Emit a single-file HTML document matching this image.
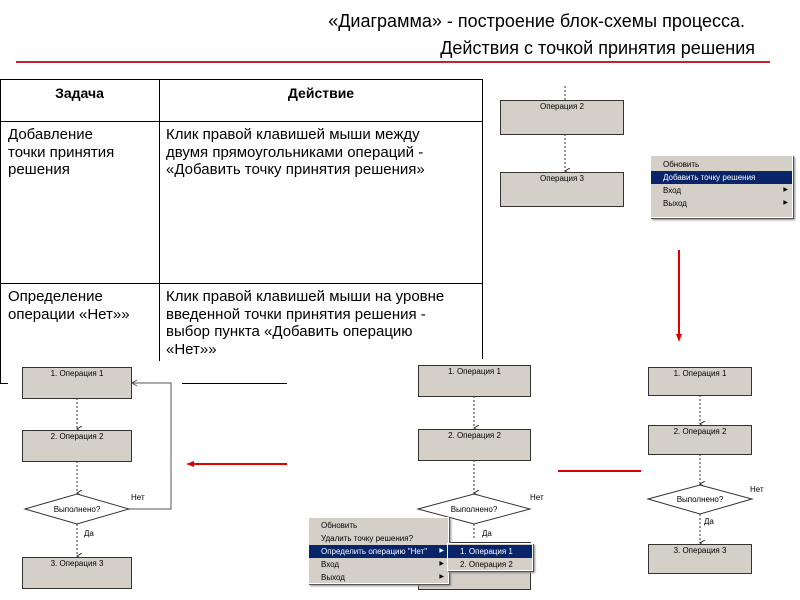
<!DOCTYPE html>
<html><head><meta charset="utf-8"><style>
body{margin:0;width:800px;height:600px;background:#fff;position:relative;overflow:hidden;font-family:"Liberation Sans",sans-serif}
.a{position:absolute}
.t{font-size:15px;color:#000;line-height:17.5px}
.box{position:absolute;background:#d4d0c8;border:1px solid #333;box-sizing:border-box;font-size:8px;text-align:center;padding-top:1px}
.menu{position:absolute;background:#d4d0c8;border:1px solid #fff;box-shadow:1px 1px 0 #555,2px 2px 2px #888;font-size:8px;box-sizing:border-box}
.menu div{height:13px;line-height:13px;padding-left:12px;position:relative}
.hl{background:#0a246a;color:#fff}
.ar:after{content:"▶";position:absolute;right:4px;font-size:6px}
</style></head><body>
<div class="a" style="left:200px;top:8px;width:555px;text-align:right;font-size:18px;line-height:27px">
<div style="padding-right:10px">«Диаграмма» - построение блок-схемы процесса.</div>
<div>Действия с точкой принятия решения</div></div>
<div class="a" style="left:16px;top:61px;width:754px;height:2px;background:#c0272d"></div>

<div class="a" style="left:0;top:79px;width:482px;height:1px;background:#000"></div>
<div class="a" style="left:0;top:79px;width:1px;height:305px;background:#000"></div>
<div class="a" style="left:482px;top:79px;width:1px;height:280px;background:#000"></div>
<div class="a" style="left:159px;top:79px;width:1px;height:282px;background:#000"></div>
<div class="a" style="left:0;top:121px;width:482px;height:1px;background:#000"></div>
<div class="a" style="left:0;top:283px;width:482px;height:1px;background:#000"></div>
<div class="a" style="left:0;top:383px;width:8px;height:1px;background:#000"></div>
<div class="a" style="left:182px;top:383px;width:105px;height:1px;background:#000"></div>
<div class="a t" style="left:0;top:85px;width:159px;text-align:center;font-weight:bold;font-size:14px">Задача</div>
<div class="a t" style="left:160px;top:85px;width:322px;text-align:center;font-weight:bold;font-size:14px">Действие</div>
<div class="a t" style="left:8px;top:126px">Добавление<br>точки принятия<br>решения</div>
<div class="a t" style="left:166px;top:126px">Клик правой клавишей мыши между<br>двумя прямоугольниками операций -<br>«Добавить точку принятия решения»</div>
<div class="a t" style="left:8px;top:288px">Определение<br>операции «Нет»»</div>
<div class="a t" style="left:166px;top:288px">Клик правой клавишей мыши на уровне<br>введенной точки принятия решения -<br>выбор пункта «Добавить операцию<br>«Нет»»</div>

<svg class="a" style="left:0;top:0" width="800" height="600">
<defs><marker id="v" markerWidth="6" markerHeight="6" refX="3" refY="5" orient="auto"><path d="M0,0 L3,5 L6,0" fill="none" stroke="#333" stroke-width="1"/></marker>
<marker id="r" markerUnits="userSpaceOnUse" markerWidth="8" markerHeight="6" refX="4" refY="3" orient="auto"><path d="M0,0 L8,3 L0,6z" fill="#d00"/></marker></defs>
<g stroke="#333" stroke-dasharray="2,2" fill="none">
<line x1="565" y1="86" x2="565" y2="100"/><line x1="565" y1="134" x2="565" y2="171" marker-end="url(#v)"/>
<line x1="77" y1="398" x2="77" y2="429" marker-end="url(#v)"/><line x1="77" y1="461" x2="77" y2="493" marker-end="url(#v)"/><line x1="77" y1="524" x2="77" y2="556" marker-end="url(#v)"/>
<line x1="474" y1="396" x2="474" y2="428" marker-end="url(#v)"/><line x1="474" y1="460" x2="474" y2="493" marker-end="url(#v)"/><line x1="474" y1="524" x2="474" y2="540"/>
<line x1="700" y1="395" x2="700" y2="424" marker-end="url(#v)"/><line x1="700" y1="454" x2="700" y2="484" marker-end="url(#v)"/><line x1="700" y1="514" x2="700" y2="543" marker-end="url(#v)"/>
</g>
<polyline points="129,509 171,509 171,383 133,383" fill="none" stroke="#555"/>
<path d="M137,380 L132,383 L137,386" fill="none" stroke="#555"/>
<g fill="#fff" stroke="#333">
<polygon points="25,509 77,494 129,509 77,524"/>
<polygon points="418,509 474,494 530,509 474,524"/>
<polygon points="648,499 700,485 752,499 700,514"/>
</g>
<g font-size="8" font-family="Liberation Sans,sans-serif" text-anchor="middle">
<text x="77" y="512">Выполнено?</text><text x="474" y="512">Выполнено?</text><text x="700" y="502">Выполнено?</text>
</g>
<g font-size="8" font-family="Liberation Sans,sans-serif">
<text x="131" y="500">Нет</text><text x="84" y="536">Да</text>
<text x="530" y="500">Нет</text><text x="482" y="536">Да</text>
<text x="750" y="492">Нет</text><text x="704" y="524">Да</text>
</g>
<line x1="287" y1="464" x2="190" y2="464" stroke="#d00" stroke-width="2" marker-end="url(#r)"/>
<line x1="558" y1="471" x2="641" y2="471" stroke="#d00" stroke-width="2"/>
<line x1="679" y1="250" x2="679" y2="338" stroke="#d00" stroke-width="2" marker-end="url(#r)"/>
</svg>

<div class="box" style="left:500px;top:100px;width:124px;height:35px">Операция 2</div>
<div class="box" style="left:500px;top:172px;width:124px;height:35px">Операция 3</div>
<div class="menu" style="left:650px;top:155px;width:143px;height:63px;padding-top:2px">
<div>Обновить</div><div class="hl">Добавить точку решения</div><div class="ar">Вход</div><div class="ar">Выход</div></div>

<div class="box" style="left:22px;top:367px;width:110px;height:32px">1. Операция 1</div>
<div class="box" style="left:22px;top:430px;width:110px;height:32px">2. Операция 2</div>
<div class="box" style="left:22px;top:557px;width:110px;height:32px">3. Операция 3</div>

<div class="box" style="left:418px;top:365px;width:113px;height:32px">1. Операция 1</div>
<div class="box" style="left:418px;top:429px;width:113px;height:32px">2. Операция 2</div>
<div class="box" style="left:418px;top:542px;width:113px;height:48px"></div>
<div class="menu" style="left:308px;top:517px;width:141px;height:67px;padding-top:1px">
<div>Обновить</div><div>Удалить точку решения?</div><div class="hl ar">Определить операцию "Нет"</div><div class="ar">Вход</div><div class="ar">Выход</div></div>
<div class="menu" style="left:447px;top:543px;width:86px;height:28px;padding-top:1px">
<div class="hl" style="padding-left:12px">1. Операция 1</div><div>2. Операция 2</div></div>

<div class="box" style="left:648px;top:367px;width:104px;height:29px">1. Операция 1</div>
<div class="box" style="left:648px;top:425px;width:104px;height:30px">2. Операция 2</div>
<div class="box" style="left:648px;top:544px;width:104px;height:30px">3. Операция 3</div>
</body></html>
